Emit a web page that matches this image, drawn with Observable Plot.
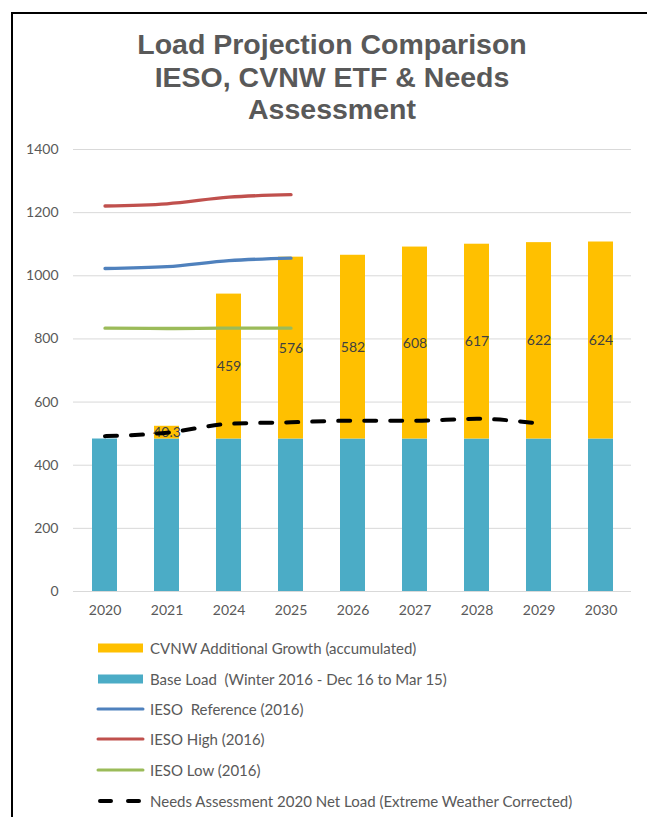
<!DOCTYPE html>
<html>
<head>
<meta charset="utf-8">
<script src="https://cdn.jsdelivr.net/npm/d3@7"></script>
<script src="https://cdn.jsdelivr.net/npm/@observablehq/plot@0.6"></script>
<style>
  html, body { margin: 0; padding: 0; background: #fff; }
  #frame { position: absolute; left: 11px; top: 12px; width: 660px; height: 830px; border: 2px solid #000; box-sizing: border-box; }
  #title { position: absolute; left: 0; top: 28px; width: 664px; text-align: center;
    font-family: "Liberation Sans", Arial, Helvetica, sans-serif; font-weight: bold; font-size: 28.5px; line-height: 32.5px; color: #595959; }
  #chart { position: absolute; left: 0; top: 130px; }
  #legend { position: absolute; left: 0; top: 0; }
  .li { position: absolute; left: 96px; height: 20px; display: flex; align-items: center;
    font-family: Lato, "Open Sans", sans-serif; font-size: 15px; color: #595959; white-space: pre; }
  .li svg { margin-right: 4px; }
</style>
</head>
<body>
<div id="frame"></div>
<div id="title">Load Projection Comparison<br>IESO, CVNW ETF &amp; Needs<br>Assessment</div>
<div id="chart"></div>
<div id="legend"></div>
<script>
const years = ["2020", "2021", "2024", "2025", "2026", "2027", "2028", "2029", "2030"];
const baseLoad = [483, 483, 483, 483, 483, 483, 483, 483, 483];
const growth = [0, 40.3, 459, 576, 582, 608, 617, 622, 624];
const growthLabels = ["", "40.3", "459", "576", "582", "608", "617", "622", "624"];

const iesoYears = ["2020", "2021", "2024", "2025"];
const iesoReference = [1023, 1029, 1048, 1056];
const iesoHigh = [1221, 1228, 1249, 1257];
const iesoLow = [834, 833, 834, 834];

const needsYears = ["2020", "2021", "2024", "2025", "2026", "2027", "2028", "2029"];
const needsLoad = [492, 503, 531, 536, 541, 541, 547, 532];

const yTicks = [0, 200, 400, 600, 800, 1000, 1200, 1400];

const seriesNames = {
  growth: "CVNW Additional Growth (accumulated)",
  base: "Base Load  (Winter 2016 - Dec 16 to Mar 15)",
  ref: "IESO  Reference (2016)",
  high: "IESO High (2016)",
  low: "IESO Low (2016)",
  needs: "Needs Assessment 2020 Net Load (Extreme Weather Corrected)"
};
const colors = { growth: "#FFC000", base: "#4BACC6", ref: "#4F81BD", high: "#C0504D", low: "#9BBB59", needs: "#000000" };

const barTable = [];
years.forEach((yr, i) => {
  barTable.push({ year: yr, series: "base", value: baseLoad[i], label: "" });
  barTable.push({ year: yr, series: "growth", value: growth[i], label: growthLabels[i] });
});
const refTable = iesoYears.map((yr, i) => ({ year: yr, value: iesoReference[i] }));
const highTable = iesoYears.map((yr, i) => ({ year: yr, value: iesoHigh[i] }));
const lowTable = iesoYears.map((yr, i) => ({ year: yr, value: iesoLow[i] }));
const needsTable = needsYears.map((yr, i) => ({ year: yr, value: needsLoad[i] }));

const font = "Lato, 'Open Sans', sans-serif";

const chart = Plot.plot({
  width: 647,
  height: 500,
  marginTop: 19,
  marginBottom: 39,
  marginLeft: 73,
  marginRight: 16,
  style: { fontFamily: font, fontSize: "14px", color: "#595959", background: "transparent" },
  x: { domain: years, paddingInner: 0.6, paddingOuter: 0.3, label: null, tickSize: 0, tickPadding: 14 },
  y: { domain: [0, 1400], ticks: yTicks, tickFormat: d => String(d), label: null, tickSize: 0, tickPadding: 15 },
  marks: [
    Plot.gridY(yTicks, { stroke: "#d9d9d9", strokeOpacity: 1, strokeWidth: 1 }),
    Plot.barY(barTable, Plot.stackY({ x: "year", y: "value", fill: d => colors[d.series] })),
    Plot.ruleY([0], { stroke: "#d9d9d9", strokeWidth: 1 }),
    Plot.text(barTable, Plot.stackY({ x: "year", y: "value", text: "label", fill: "#404040", fontSize: 14 })),
    Plot.line(highTable, { x: "year", y: "value", stroke: colors.high, strokeWidth: 3.3, curve: "monotone-x" }),
    Plot.line(refTable, { x: "year", y: "value", stroke: colors.ref, strokeWidth: 3.3, curve: "monotone-x" }),
    Plot.line(lowTable, { x: "year", y: "value", stroke: colors.low, strokeWidth: 3.3, curve: "monotone-x" }),
    Plot.line(needsTable, { x: "year", y: "value", stroke: colors.needs, strokeWidth: 4, strokeDasharray: "12,14", strokeLinecap: "round", curve: "monotone-x" })
  ]
});
document.getElementById("chart").appendChild(chart);

// legend
const legendRows = [
  { key: "growth", type: "rect", y: 648 },
  { key: "base", type: "rect", y: 679 },
  { key: "ref", type: "line", y: 709 },
  { key: "high", type: "line", y: 739 },
  { key: "low", type: "line", y: 770 },
  { key: "needs", type: "dash", y: 801 }
];
const legend = document.getElementById("legend");
legendRows.forEach(r => {
  const div = document.createElement("div");
  div.className = "li";
  div.style.top = (r.y - 10) + "px";
  const svg = d3.create("svg").attr("width", 50).attr("height", 20);
  if (r.type === "rect") {
    svg.append("rect").attr("x", 2).attr("y", 5.5).attr("width", 45).attr("height", 9).attr("fill", colors[r.key]);
  } else if (r.type === "line") {
    svg.append("line").attr("x1", 2).attr("x2", 47).attr("y1", 10).attr("y2", 10)
      .attr("stroke", colors[r.key]).attr("stroke-width", 3).attr("stroke-linecap", "round");
  } else {
    svg.append("line").attr("x1", 4).attr("x2", 47).attr("y1", 10).attr("y2", 10)
      .attr("stroke", "#000").attr("stroke-width", 4).attr("stroke-linecap", "round").attr("stroke-dasharray", "11,17");
  }
  div.appendChild(svg.node());
  const span = document.createElement("span");
  span.textContent = seriesNames[r.key];
  div.appendChild(span);
  legend.appendChild(div);
});
</script>
</body>
</html>
